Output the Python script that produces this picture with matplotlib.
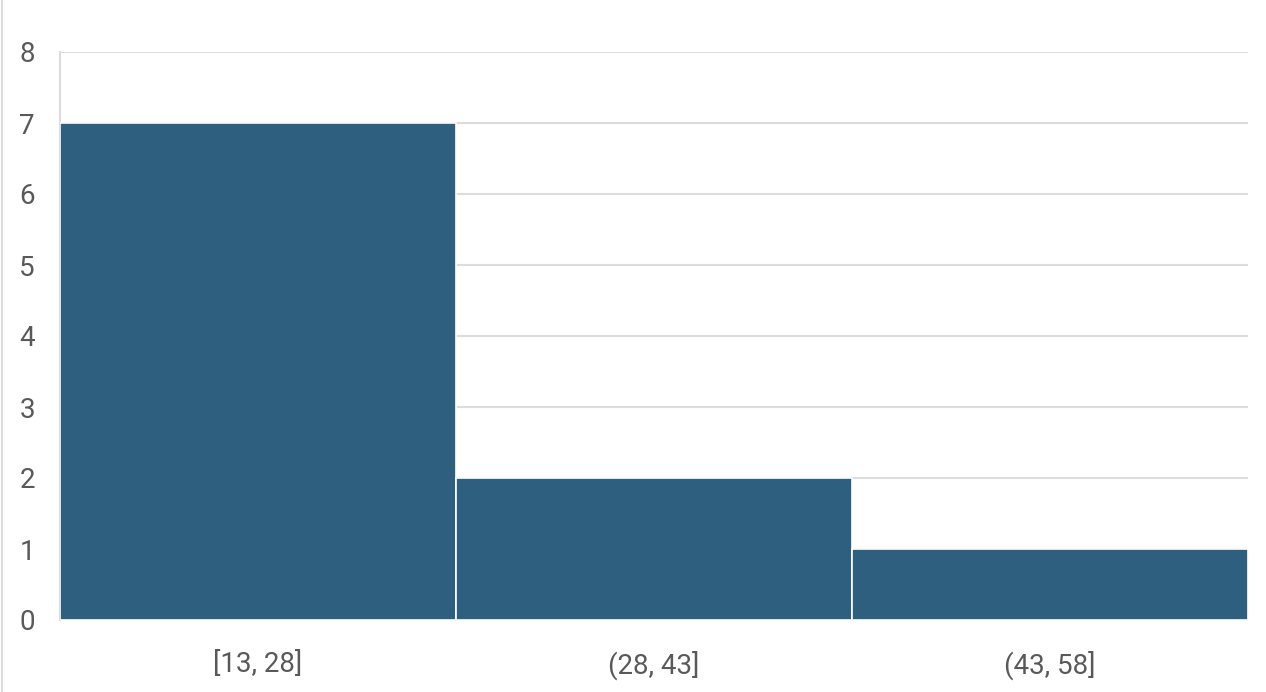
import matplotlib
matplotlib.use("Agg")
import matplotlib.pyplot as plt
from matplotlib.lines import Line2D

bins = ["[13, 28]", "(28, 43]", "(43, 58]"]
counts = [7, 2, 1]
y_ticks = [0, 1, 2, 3, 4, 5, 6, 7, 8]

plt.rcParams['font.family'] = ['Roboto', 'DejaVu Sans']

fig = plt.figure(figsize=(12.66, 6.92), dpi=100)
ax = fig.add_axes([60 / 1266, 72 / 692, 1188 / 1266, 568 / 692])

ax.bar(range(len(bins)), counts, width=1.0, color="#2E5F7F", edgecolor="white", linewidth=1.2, zorder=3)
ax.set_xlim(-0.5, len(bins) - 0.5)
ax.set_ylim(0, 8)
ax.set_yticks(y_ticks)
ax.set_xticks(range(len(bins)))
ax.set_xticklabels(bins)
ax.grid(axis="y", color="#DCDCDC", linewidth=1.5, zorder=0)

for s in ["top", "right", "bottom"]:
    ax.spines[s].set_visible(False)
ax.spines["left"].set_color("#DCDCDC")
ax.spines["left"].set_linewidth(1.5)
ax.tick_params(axis="both", length=0, labelcolor="#595959")
ax.tick_params(axis="y", pad=18, labelsize=20)
ax.tick_params(axis="x", pad=22, labelsize=20)

# thin border at the left edge of the card
fig.add_artist(Line2D([1.5 / 1266, 1.5 / 1266], [0, 1], color="#DCDCDC", linewidth=1.5, transform=fig.transFigure))

fig.savefig("out.png", dpi=100)
